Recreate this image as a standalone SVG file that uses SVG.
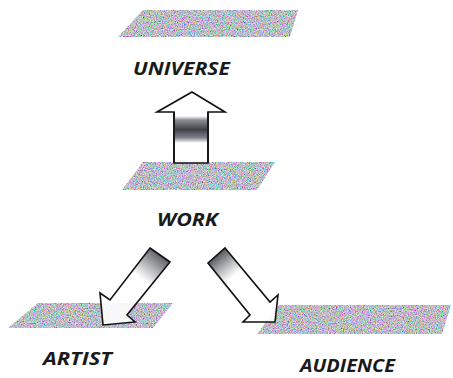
<svg xmlns="http://www.w3.org/2000/svg" width="453" height="378" viewBox="0 0 453 378">
<defs>
  <filter id="grain" x="0" y="0" width="1" height="1" filterUnits="objectBoundingBox">
    <feTurbulence type="fractalNoise" baseFrequency="0.85" numOctaves="2" seed="4" result="n"/>
    <feColorMatrix in="n" type="matrix" values="1.5 0 0 0 -0.25  0 1.5 0 0 -0.24  0 0 1.5 0 -0.18  0 0 0 0 1" result="c"/>
    <feComposite in="c" in2="SourceGraphic" operator="in"/>
  </filter>
  <linearGradient id="band" x1="0" y1="0" x2="0" y2="1">
    <stop offset="0" stop-color="#ffffff"/>
    <stop offset="0.15" stop-color="#8a8d94"/>
    <stop offset="0.5" stop-color="#3f4248"/>
    <stop offset="0.8" stop-color="#7d8088"/>
    <stop offset="1" stop-color="#ffffff"/>
  </linearGradient>
  <linearGradient id="tailA" gradientUnits="userSpaceOnUse" x1="160" y1="255" x2="134" y2="289">
    <stop offset="0" stop-color="#505359"/>
    <stop offset="0.35" stop-color="#a8aaaf"/>
    <stop offset="0.7" stop-color="#ffffff"/>
  </linearGradient>
  <linearGradient id="tailB" gradientUnits="userSpaceOnUse" x1="216" y1="256" x2="240" y2="286">
    <stop offset="0" stop-color="#45484e"/>
    <stop offset="0.35" stop-color="#a8aaaf"/>
    <stop offset="0.7" stop-color="#ffffff"/>
  </linearGradient>
  <style>
    .plane{fill:#999;filter:url(#grain);}
    .arrow{stroke:#111;stroke-width:1.6;stroke-linejoin:miter;}
    .lbl{font-family:"Open Sans","Liberation Sans",sans-serif;font-weight:700;font-style:italic;font-size:17px;fill:#1a1a1a;}
  </style>
</defs>
<rect width="453" height="378" fill="#ffffff"/>

<g id="universe">
  <polygon class="plane" points="143,10 298,10 290,37 118,37"/>
  <text class="lbl" x="133" y="75" textLength="97" lengthAdjust="spacingAndGlyphs">UNIVERSE</text>
</g>

<g id="work">
  <polygon class="plane" points="143,162 275,162 257,190 122,190"/>
  <text class="lbl" x="157" y="226" textLength="61" lengthAdjust="spacingAndGlyphs">WORK</text>
</g>

<g id="artist">
  <polygon class="plane" points="38,303 173,303 153,328 8,328"/>
  <text class="lbl" x="43" y="365" textLength="69" lengthAdjust="spacingAndGlyphs">ARTIST</text>
</g>

<g id="audience">
  <polygon class="plane" points="279,305 451,305 442,334 257,334"/>
  <text class="lbl" x="300" y="372" textLength="95" lengthAdjust="spacingAndGlyphs">AUDIENCE</text>
</g>

<g id="connectors">
  <g id="arrow-up">
    <polygon class="arrow" fill="#ffffff" points="192,92 225,112 208,112 208,163 174,163 174,112 157,112"/>
    <rect x="175" y="116" width="32" height="27" fill="url(#band)"/>
    <line x1="174" y1="112" x2="174" y2="163" stroke="#111" stroke-width="1.6"/>
    <line x1="208" y1="112" x2="208" y2="163" stroke="#111" stroke-width="1.6"/>
  </g>
  <g id="arrow-artist">
    <polygon class="arrow" fill="url(#tailA)" fill-opacity="0.9" points="150,248 170,262 127,315 135,322 103,325 100,293 110,300"/>
  </g>
  <g id="arrow-audience">
    <polygon class="arrow" fill="url(#tailB)" fill-opacity="0.9" points="225,248 270,302 278,295 275,322 243,322 250,315 208,263"/>
  </g>
</g>
</svg>
